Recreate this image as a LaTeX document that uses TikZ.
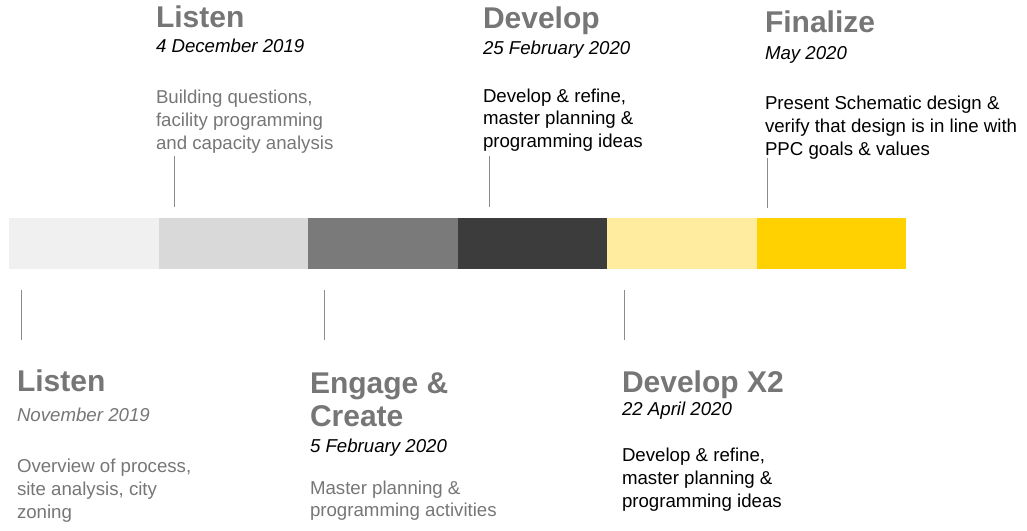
\documentclass[tikz,border=0pt]{standalone}
\usepackage{fontspec}
\setmainfont{Liberation Sans}
\usetikzlibrary{positioning}

\definecolor{stageA}{HTML}{F0F0F0}
\definecolor{stageB}{HTML}{D9D9D9}
\definecolor{stageC}{HTML}{7A7A7A}
\definecolor{stageD}{HTML}{3C3C3C}
\definecolor{stageE}{HTML}{FFEC9E}
\definecolor{stageF}{HTML}{FFD100}
\definecolor{softgrey}{HTML}{767676}
\definecolor{tickgrey}{HTML}{8C8C8C}

\begin{document}
\begin{tikzpicture}[x=0.75pt, y=-0.75pt, inner sep=0pt, outer sep=0pt]
  \tikzstyle{stage} = [rectangle, minimum width=112.125pt, minimum height=38.25pt]
  \tikzstyle{phase} = [anchor=base west, align=left, text=softgrey,
    font=\fontsize{22.5}{24.75}\selectfont\bfseries]
  \tikzstyle{when} = [align=left, font=\fontsize{14}{17}\selectfont\itshape]
  \tikzstyle{note} = [align=left, font=\fontsize{14}{17}\selectfont]
  \tikzstyle{tick} = [draw=tickgrey, line width=0.75pt]

  \useasboundingbox (0,0) rectangle (1027,531);

  % Timeline bar
  \node [stage, fill=stageA, anchor=north west] (s1) at (9,218) {};
  \node [stage, fill=stageB, right=0pt of s1] (s2) {};
  \node [stage, fill=stageC, right=0pt of s2] (s3) {};
  \node [stage, fill=stageD, right=0pt of s3] (s4) {};
  \node [stage, fill=stageE, right=0pt of s4] (s5) {};
  \node [stage, fill=stageF, right=0pt of s5] (s6) {};

  % Upper milestones (base of a note = its last line)
  \node [phase] (listenT) at (156,28) {Listen};
  \node [when, below=18.75pt of listenT.base west, anchor=base west] (listenTdate)
        {4 December 2019};
  \node [note, text=softgrey, below=72.25pt of listenTdate.base west, anchor=base west] (listenTnote)
        {Building questions,\\facility programming\\and capacity analysis};

  \node [phase] (developT) at (483,29) {Develop};
  \node [when, below=19.5pt of developT.base west, anchor=base west] (developTdate)
        {25 February 2020};
  \node [note, below=69.25pt of developTdate.base west, anchor=base west] (developTnote)
        {Develop \& refine,\\master planning \&\\programming ideas};

  \node [phase] (finalize) at (765,33) {Finalize};
  \node [when, below=20.25pt of finalize.base west, anchor=base west] (finalizedate)
        {May 2020};
  \node [note, below=71.5pt of finalizedate.base west, anchor=base west] (finalizenote)
        {Present Schematic design \&\\verify that design is in line with\\PPC goals \& values};

  % Lower milestones
  \node [phase] (listenB) at (17,391) {Listen};
  \node [when, text=softgrey, below=22.5pt of listenB.base west, anchor=base west] (listenBdate)
        {November 2019};
  \node [note, text=softgrey, below=72.75pt of listenBdate.base west, anchor=base west] (listenBnote)
        {Overview of process,\\site analysis, city\\zoning};

  \node [phase] (engage) at (310,426) {Engage \&\\Create};
  \node [when, below=20pt of engage.base west, anchor=base west] (engagedate)
        {5 February 2020};
  \node [note, text=softgrey, below=48pt of engagedate.base west, anchor=base west] (engagenote)
        {Master planning \&\\programming activities};

  \node [phase] (developB) at (622,392) {Develop X2};
  \node [when, below=17.25pt of developB.base west, anchor=base west] (developBdate)
        {22 April 2020};
  \node [note, below=69pt of developBdate.base west, anchor=base west] (developBnote)
        {Develop \& refine,\\master planning \&\\programming ideas};

  % Ticks
  \coordinate (t1a) at (174,156); \coordinate (t1b) at (174,207);
  \coordinate (t2a) at (489,156); \coordinate (t2b) at (489,207);
  \coordinate (t3a) at (767,158); \coordinate (t3b) at (767,208);
  \coordinate (t4a) at (21,290);  \coordinate (t4b) at (21,340);
  \coordinate (t5a) at (324,290); \coordinate (t5b) at (324,340);
  \coordinate (t6a) at (624,290); \coordinate (t6b) at (624,340);
  \path [tick] (t1a) -- (t1b);
  \path [tick] (t2a) -- (t2b);
  \path [tick] (t3a) -- (t3b);
  \path [tick] (t4a) -- (t4b);
  \path [tick] (t5a) -- (t5b);
  \path [tick] (t6a) -- (t6b);
\end{tikzpicture}
\end{document}
